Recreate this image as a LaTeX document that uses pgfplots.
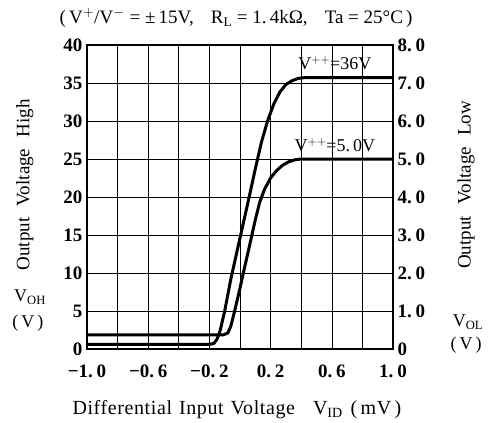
\documentclass[border=0pt]{standalone}
\usepackage{fontspec}
\setmainfont{Liberation Serif}
\usepackage{pgfplots}
\pgfplotsset{compat=1.18}
\newcommand{\lf}{\fontsize{18}{20}\selectfont}
\newcommand{\tf}{\fontsize{19}{21}\selectfont\bfseries}
\begin{document}
\begin{tikzpicture}
\path[use as bounding box] (0,0) rectangle (491pt,423pt);
\begin{axis}[
  at={(87pt,74pt)}, anchor=south west,
  width=306pt, height=304pt, scale only axis,
  xmin=-1, xmax=1, ymin=0, ymax=40,
  xtick={-1,-0.6,-0.2,0.2,0.6,1},
  minor xtick={-0.8,-0.4,0,0.4,0.8},
  xticklabels={−1.\hspace{0.2em}0,−0.\hspace{0.2em}6,−0.\hspace{0.2em}2,0.\hspace{0.2em}2,0.\hspace{0.2em}6,1.\hspace{0.2em}0},
  ytick={0,5,10,15,20,25,30,35,40},
  yticklabels={0,5,10,15,20,25,30,35,40},
  grid=both,
  major grid style={black, line width=0.6pt},
  minor grid style={black, line width=0.6pt},
  major tick length=0pt, minor tick length=0pt,
  axis line style={line width=2pt},
  ticklabel style={font=\tf},
  xticklabel style={yshift=-12pt},
  yticklabel style={xshift=-1pt},
  xlabel={Differential\hspace{0.35em}Input\hspace{0.35em}Voltage\hspace{0.9em}V$_{\mathrm{ID}}$\hspace{0.4em}(\,mV\,)},
  xlabel style={at={(axis description cs:0.49,-0.2)}, anchor=center, font=\fontsize{20}{22}\selectfont\addfontfeatures{LetterSpace=3}},
  ylabel={Output\hspace{0.6em}Voltage\hspace{0.6em}High},
  ylabel style={at={(axis description cs:-0.203,0.54)}, anchor=center, rotate=0, font=\fontsize{19}{21}\selectfont},
  clip=false,
]
\addplot[black, line width=3pt, line join=round] coordinates {
(-1.0,0.6) (-0.20,0.6) (-0.17,0.75) (-0.15,1.3) (-0.13,2.4) (-0.10,5.0) (-0.06,9.2) (-0.02,12.8) (0.02,16.4) (0.06,20.0) (0.10,23.7) (0.14,27.2) (0.18,30.0) (0.22,32.2) (0.26,33.8) (0.30,34.8) (0.34,35.3) (0.38,35.6) (0.42,35.7) (1.0,35.7)
};
\node[font=\lf] at (axis cs:0.62,37.6) {V$^{++}$=36V};
\node[font=\lf] at (axis cs:0.62,26.8) {V$^{++}$=5.\,0V};
\node[font=\fontsize{19}{21}\selectfont] at (axis description cs:0.487,1.089) {(\,V$^{+}$/V$^{-}$ = ±\,15V,\hspace{0.9em}R$_{\mathrm{L}}$ = 1.\,4kΩ,\hspace{0.9em}Ta = 25°C\,)};
\node[font=\lf] at (axis description cs:-0.186,0.171) {V$_{\mathrm{OH}}$};
\node[font=\lf] at (axis description cs:-0.193,0.0855) {(\,V\,)};
\end{axis}
\begin{axis}[
  at={(87pt,74pt)}, anchor=south west,
  width=306pt, height=304pt, scale only axis,
  xmin=-1, xmax=1, ymin=0, ymax=8,
  axis x line=none, axis y line*=right,
  ytick={0,1,2,3,4,5,6,7,8},
  yticklabels={0,1.\hspace{0.2em}0,2.\hspace{0.2em}0,3.\hspace{0.2em}0,4.\hspace{0.2em}0,5.\hspace{0.2em}0,6.\hspace{0.2em}0,7.\hspace{0.2em}0,8.\hspace{0.2em}0},
  major tick length=0pt,
  axis line style={line width=2pt},
  ticklabel style={font=\tf},
  yticklabel style={xshift=1pt},
  ylabel={Output\hspace{0.6em}Voltage\hspace{0.6em}Low},
  ylabel style={at={(axis description cs:1.239,0.54)}, anchor=center, rotate=0, font=\fontsize{19}{21}\selectfont},
  clip=false,
]
\addplot[black, line width=3pt, line join=round] coordinates {
(-1.0,0.37) (-0.11,0.37) (-0.08,0.42) (-0.06,0.6) (-0.035,1.0) (0.0,1.6) (0.02,1.97) (0.05,2.5) (0.074,2.93) (0.10,3.4) (0.128,3.85) (0.16,4.2) (0.20,4.5) (0.24,4.7) (0.28,4.84) (0.32,4.93) (0.36,4.98) (0.40,5.0) (1.0,5.0)
};
\node[font=\lf] at (axis description cs:1.245,0.089) {V$_{\mathrm{OL}}$};
\node[font=\lf] at (axis description cs:1.239,0.013) {(\,V\,)};
\end{axis}
\end{tikzpicture}
\end{document}
